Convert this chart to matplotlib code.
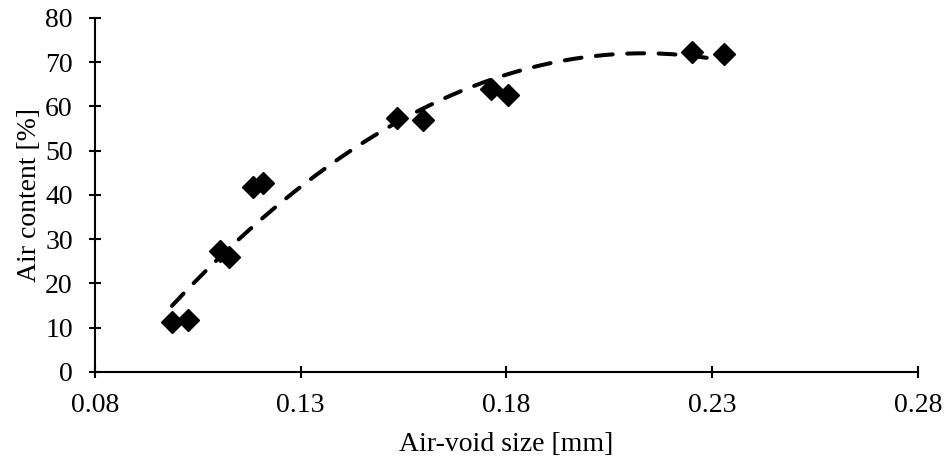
import numpy as np
import matplotlib
matplotlib.use('Agg')
import matplotlib.pyplot as plt

# measured air-void size [mm] and air content [%]
void_size = [0.0987, 0.1026, 0.1104, 0.1126, 0.1184, 0.1208,
             0.1534, 0.1597, 0.1762, 0.1804, 0.2251, 0.2329]
air_content = [11.3, 11.8, 27.3, 26.0, 41.8, 42.7,
               57.4, 57.0, 64.0, 62.6, 72.3, 71.9]

x_ticks = [0.08, 0.13, 0.18, 0.23, 0.28]
y_ticks = [0, 10, 20, 30, 40, 50, 60, 70, 80]

plt.rcParams['font.family'] = ['Liberation Serif', 'DejaVu Serif']

fig = plt.figure(figsize=(9.46, 4.59), dpi=100)
ax = fig.add_axes([0.1004, 0.19, 0.870, 0.771])

# second order polynomial trendline through the measurements
coef = np.polyfit(void_size, air_content, 2)
xs = np.linspace(min(void_size), max(void_size), 200)
ax.plot(xs, np.polyval(coef, xs), color='black', lw=2.9,
        linestyle=(0, (4.2, 3.6)), dash_capstyle='round', zorder=2)

ax.plot(void_size, air_content, 'D', color='black', ms=11.5, zorder=3)

ax.set_xlim(0.08, 0.28)
ax.set_ylim(0, 80)
ax.set_xticks(x_ticks)
ax.set_xticklabels(['{0:.2f}'.format(t) for t in x_ticks])
ax.set_yticks(y_ticks)
for side in ['top', 'right']:
    ax.spines[side].set_visible(False)
for side in ['left', 'bottom']:
    ax.spines[side].set_linewidth(1.5)
ax.tick_params(direction='inout', length=9, width=1.5, labelsize=20)
ax.tick_params(axis='x', pad=10.5)
ax.tick_params(axis='y', pad=11.5)

ax.set_xlabel('Air-void size [mm]', fontsize=20, labelpad=10)
ax.set_ylabel('Air content [%]', fontsize=20, labelpad=2.5)

plt.savefig('out.png', dpi=100)
